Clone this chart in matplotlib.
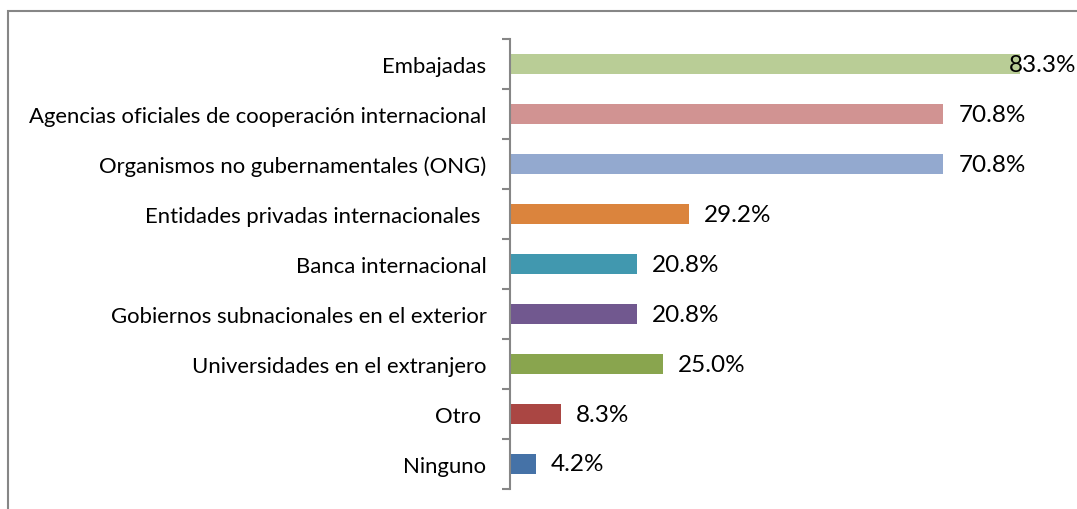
import matplotlib.pyplot as plt
from matplotlib.patches import Rectangle

# categories from bottom to top
categories = ['Ninguno', 'Otro ', 'Universidades en el extranjero',
              'Gobiernos subnacionales en el exterior', 'Banca internacional',
              'Entidades privadas internacionales ', 'Organismos no gubernamentales (ONG)',
              'Agencias oficiales de cooperación internacional', 'Embajadas']
values = [4.2, 8.3, 25.0, 20.8, 20.8, 29.2, 70.8, 70.8, 83.3]
colors = ['#4572A7', '#AA4643', '#89A54E', '#71588F', '#4198AF',
          '#DB843D', '#93A9CF', '#D19392', '#B9CD96']

plt.rcParams['font.family'] = ['Lato', 'DejaVu Sans']

fig = plt.figure(figsize=(10.77, 5.10), dpi=100)
fig.patches.append(Rectangle((8 / 1077, -0.1), 1.2, 1 - 12 / 510 + 0.1,
                             transform=fig.transFigure, fill=False,
                             edgecolor='#868686', linewidth=1.5))
ax = fig.add_axes([510 / 1077, 1 - 490 / 510, 567 / 1077, 450 / 510])

y = range(len(categories))
ax.barh(y, values, height=0.4, color=colors)

ax.set_xlim(0, 567 / 6.12)
ax.set_ylim(-0.5, len(categories) - 0.5)

for i, v in enumerate(values):
    # the longest bar leaves no room, so its label sits over the bar end
    off = 15 if v < 80 else -11
    ax.annotate(f'{v:.1f}%', (v, i), xytext=(off, 0), textcoords='offset pixels',
                va='center', ha='left', fontsize=17.5, color='black', annotation_clip=False)

ax.set_yticks(list(y))
ax.set_yticklabels(categories, fontsize=15.9)
ax.tick_params(axis='y', which='major', length=0, pad=17)
ax.set_yticks([i - 0.5 for i in range(len(categories) + 1)], minor=True)
ax.tick_params(axis='y', which='minor', length=6, width=1.5, color='#868686')

ax.xaxis.set_visible(False)
for s in ['top', 'right', 'bottom']:
    ax.spines[s].set_visible(False)
ax.spines['left'].set_color('#868686')
ax.spines['left'].set_linewidth(1.5)

fig.savefig('out.png', dpi=100)
